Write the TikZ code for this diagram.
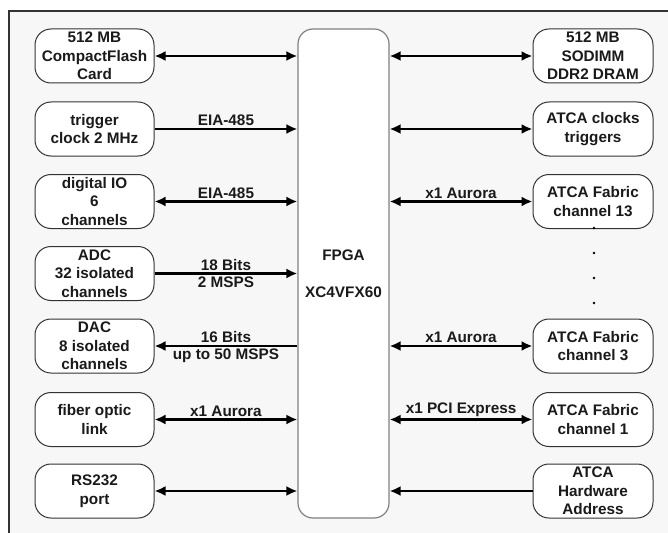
\documentclass[tikz,border=0pt]{standalone}
\usepackage{fontspec}
\setmainfont{Liberation Sans}
\usetikzlibrary{arrows.meta}
\definecolor{bgc}{HTML}{F7F7F7}
\definecolor{edgec}{HTML}{333333}
\definecolor{fpgac}{HTML}{808080}
\definecolor{txtc}{HTML}{1A1A1A}
\begin{document}
\begin{tikzpicture}[x=1pt,y=-1pt,
  font=\fontsize{15.3}{18.5}\selectfont\bfseries,
  blk/.style={draw=edgec, line width=1pt, fill=white, rounded corners=16pt,
    minimum width=119pt, minimum height=54pt, inner sep=0pt, align=center, text=txtc},
  fpgabox/.style={draw=fpgac, line width=1.2pt, fill=white, rounded corners=15pt,
    minimum width=91pt, minimum height=489pt, inner sep=0pt, align=center, text=txtc},
  bi/.style={line width=2.4pt, black, {Latex[length=11pt,width=10pt]}-{Latex[length=11pt,width=10pt]}},
  uni/.style={line width=2.4pt, black, -{Latex[length=11pt,width=10pt]}},
  lbl/.style={inner sep=2pt, text=txtc},
  dotn/.style={circle, fill=black, inner sep=0pt, minimum size=2.6pt}]
\useasboundingbox (0,0) rectangle (668,532);
\clip (0,0) rectangle (668,532);
\draw[edgec, line width=1.5pt, fill=bgc] (9,11) rectangle (690,550);

% FPGA
\node[fpgabox] (F) at (343.5,273.5) {FPGA\\[18.5pt]XC4VFX60};

% left column
\node[blk] (L1) at (94.5,56) {512 MB\\CompactFlash\\Card};
\node[blk] (L2) at (94.5,129) {trigger\\clock 2 MHz};
\node[blk] (L3) at (94.5,201.5) {digital IO\\6\\channels};
\node[blk] (L4) at (94.5,273.5) {ADC\\32 isolated\\channels};
\node[blk] (L5) at (94.5,346) {DAC\\8 isolated\\channels};
\node[blk] (L6) at (94.5,419.5) {fiber optic\\link};
\node[blk] (L7) at (94.5,491) {RS232\\port};

% right column
\node[blk, minimum width=120pt] (R1) at (593,56) {512 MB\\SODIMM\\DDR2 DRAM};
\node[blk, minimum width=120pt] (R2) at (593,129) {ATCA clocks\\triggers};
\node[blk, minimum width=120pt] (R3) at (593,201.5) {ATCA Fabric\\channel 13};
\node[blk, minimum width=120pt] (R5) at (593,346) {ATCA Fabric\\channel 3};
\node[blk, minimum width=120pt] (R6) at (593,419.5) {ATCA Fabric\\channel 1};
\node[blk, minimum width=120pt] (R7) at (593,491) {ATCA\\Hardware\\Address};

% dots
\node[dotn] (d1) at (594,228) {};
\node[dotn] (d2) at (594,253) {};
\node[dotn] (d3) at (594,278) {};
\node[dotn] (d4) at (594,303) {};

% left connectors
\draw[bi] (L1.east) -- (L1.east -| F.west);
\draw[uni] (L2.east) -- (L2.east -| F.west) node[midway, above, lbl] {EIA-485};
\draw[bi] (L3.east) -- (L3.east -| F.west) node[midway, above, lbl] {EIA-485};
\draw[uni] (L4.east) -- (L4.east -| F.west)
  node[midway, above, lbl] {18 Bits} node[midway, below, lbl] {2 MSPS};
\draw[uni] (L5.east -| F.west) -- (L5.east)
  node[midway, above, lbl] {16 Bits} node[midway, below, lbl] {up to 50 MSPS};
\draw[bi] (L6.east) -- (L6.east -| F.west) node[midway, above, lbl] {x1 Aurora};
\draw[bi] (L7.east) -- (L7.east -| F.west);

% right connectors
\draw[bi] (R1.west -| F.east) -- (R1.west);
\draw[bi] (R2.west -| F.east) -- (R2.west);
\draw[bi] (R3.west -| F.east) -- (R3.west) node[midway, above, lbl] {x1 Aurora};
\draw[bi] (R5.west -| F.east) -- (R5.west) node[midway, above, lbl] {x1 Aurora};
\draw[bi] (R6.west -| F.east) -- (R6.west) node[midway, above, lbl] {x1 PCI Express};
\draw[uni] (R7.west) -- (R7.west -| F.east);
\end{tikzpicture}
\end{document}
